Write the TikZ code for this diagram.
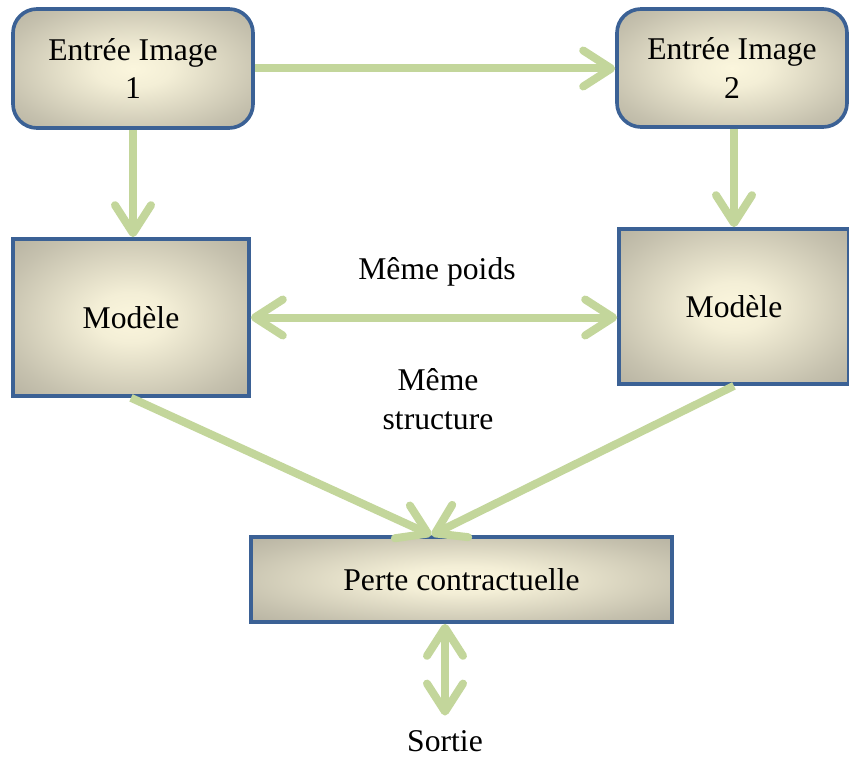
\documentclass[tikz,border=0pt]{standalone}
\usepackage{fontspec}
\setmainfont{Liberation Serif}
\usetikzlibrary{arrows.meta}
\definecolor{bordbleu}{HTML}{3B6195}
\definecolor{flechevert}{HTML}{C3D69B}
\definecolor{fondclair}{HTML}{FBF6DD}
\definecolor{fondgris}{HTML}{9A9688}
\pgfdeclareradialshading{fondboite}{\pgfpoint{0bp}{0bp}}{%
  color(0bp)=(fondclair); color(8bp)=(fondclair!92!fondgris);
  color(28bp)=(fondclair!45!fondgris); color(46bp)=(fondgris!90!fondclair);
  color(80bp)=(fondgris)}
\begin{document}
\begin{tikzpicture}[
    every node/.style={font=\fontsize{22.5}{27.7}\selectfont},
    boite/.style={draw=bordbleu, line width=2.6pt, shading=fondboite,
      align=center, inner sep=0pt},
    fleche/.style={draw=flechevert, line width=0.2cm,
      -{Straight Barb[length=0.7cm, width=0.9cm, round]}},
    dfleche/.style={fleche,
      {Straight Barb[length=0.7cm, width=0.9cm, round]}-{Straight Barb[length=0.7cm, width=0.9cm, round]}},
  ]
    \useasboundingbox (0, 0) rectangle (21.225, -19);

    % boites d'entree
    \node[boite, rounded corners=0.6cm, minimum width=6.0cm, minimum height=2.975cm]
      (entree1) at (3.325, -1.7125) {Entrée Image\\ 1};
    \node[boite, rounded corners=0.6cm, minimum width=5.75cm, minimum height=2.95cm]
      (entree2) at (18.3, -1.7) {Entrée Image\\ 2};

    % les deux modeles
    \node[boite, minimum width=5.9cm, minimum height=3.925cm]
      (modele1) at (3.275, -7.9375) {Modèle};
    \node[boite, minimum width=5.75cm, minimum height=3.875cm]
      (modele2) at (18.35, -7.6625) {Modèle};

    % perte et sortie
    \node[boite, minimum width=10.525cm, minimum height=2.125cm]
      (perte) at (11.5375, -14.4875) {Perte contractuelle};
    \node[anchor=base, outer sep=0.25cm] (sortie) at (11.125, -18.78) {Sortie};

    % textes du milieu
    \node (poids) at (10.925, -6.8) {Même poids};
    \node[align=center] (structure) at (10.95, -9.99) {Même\\ structure};

    % fleches
    \coordinate (jonction) at ([xshift=-0.75cm]perte.north);
    \draw[fleche] (entree1.east) -- (entree1.east -| entree2.west);
    \draw[fleche] (entree1.south) -- (entree1.south |- modele1.north);
    \draw[fleche] (modele2.north |- entree2.south) -- (modele2.north);
    \draw[dfleche] (modele1.east) -- (modele1.east -| modele2.west);
    \draw[fleche] (modele1.south) -- (jonction);
    \draw[fleche] (modele2.south) -- (jonction);
    \draw[dfleche] (perte.south -| sortie.north) -- (sortie.north);
  \end{tikzpicture}
\end{document}
